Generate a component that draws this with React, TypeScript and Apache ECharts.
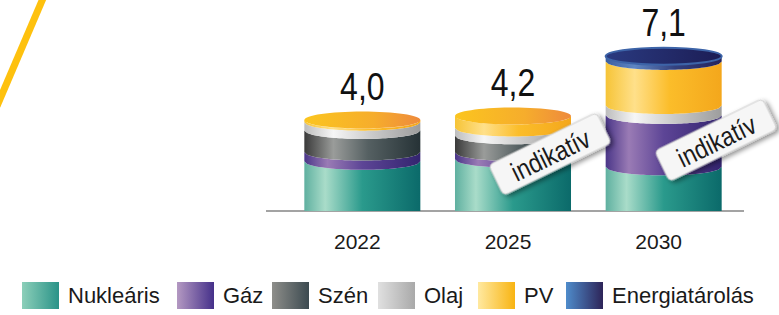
import React, { useEffect, useRef } from "react";
import * as echarts from "echarts";

const categories = ["2022", "2025", "2030"];
const seriesNames = ["Nukleáris", "Gáz", "Szén", "Olaj", "PV", "Energiatárolás"];
const nuklearis = [2.0, 2.1, 1.73];
const gaz = [0.45, 0.33, 2.5];
const szen = [1.05, 0.81, 0];
const olaj = [0.4, 0.38, 0.48];
const pv = [0.1, 0.58, 2.14];
const energiatarolas = [0, 0, 0.25];
const totals = [4.0, 4.2, 7.1];
const tagText = "indikatív";

const SANS = "'Liberation Sans', Arial, sans-serif";
const RY = 8.5;

const bodyStops: [number, string][][] = [
  [[0, "#5fb0a0"], [0.18, "#a9dcc9"], [0.5, "#2a9a8c"], [1, "#0b6a6a"]],
  [[0, "#4a3688"], [0.2, "#9a7bb5"], [0.5, "#5d4596"], [1, "#33246f"]],
  [[0, "#3a3a3a"], [0.25, "#9a9c9a"], [0.55, "#556062"], [1, "#263236"]],
  [[0, "#bdbdbd"], [0.25, "#f6f6f6"], [0.6, "#c8c8c8"], [1, "#9d9d9d"]],
  [[0, "#f6c437"], [0.25, "#ffe08a"], [0.55, "#fbbd2a"], [1, "#f4a71c"]],
  [[0, "#3b5ea0"], [0.25, "#5f86c3"], [0.6, "#33407e"], [1, "#25245c"]],
];
const capStops: [number, string][][] = [
  [[0, "#8fd0bd"], [1, "#2a9a8c"]],
  [[0, "#8a6bb0"], [1, "#3d2a85"]],
  [[0, "#7a7c7a"], [1, "#333c40"]],
  [[0, "#eeeeee"], [1, "#bdbdbd"]],
  [[0, "#fbc51f"], [0.6, "#f6ad2c"], [1, "#ee8a3c"]],
  [[0, "#2a3a80"], [1, "#1c1d55"]],
];
const legendStops: [string, string][] = [
  ["#8ccfb9", "#2a9388"],
  ["#b499c2", "#45308a"],
  ["#8e8e8a", "#3c4a50"],
  ["#e0e0e0", "#a9a9a9"],
  ["#ffe9a0", "#f8b412"],
  ["#4f8ccb", "#2d2458"],
];
const legendLefts = [22, 177, 272, 378, 478, 566];

const seriesValues = [nuklearis, gaz, szen, olaj, pv, energiatarolas];

function grad(stops: [number, string][]) {
  return new echarts.graphic.LinearGradient(0, 0, 1, 0, stops.map(([o, c]) => ({ offset: o, color: c })));
}

export default function App() {
  const ref = useRef<HTMLDivElement>(null);
  useEffect(() => {
    document.body.style.margin = "0";
    const chart = echarts.init(ref.current!, null, { renderer: "svg" });

    const sums = categories.map((_, i) => seriesValues.reduce((a, s) => a + s[i], 0));
    const bases = seriesValues.map(() => [0, 0, 0]);
    const running = [0, 0, 0];
    seriesValues.forEach((s, si) => {
      s.forEach((v, i) => {
        bases[si][i] = running[i];
        running[i] += v;
      });
    });

    const makeRender = (si: number) => (params: any, api: any) => {
      const ci = api.value(0);
      const base = api.value(1);
      const top = api.value(2);
      if (!(top - base > 0)) return { type: "group", children: [] };
      const xc = api.coord([ci, 0])[0];
      const y0 = api.coord([ci, 0])[1];
      const yb = api.coord([ci, base])[1];
      const yt = api.coord([ci, top])[1];
      const hw = api.size([1, 0])[0] * 0.385;
      const N = 40;
      const pts: number[][] = [];
      for (let k = 0; k <= N; k++) {
        const t = -1 + (2 * k) / N;
        pts.push([xc + t * hw, yt - RY + RY * Math.sqrt(Math.max(0, 1 - t * t))]);
      }
      if (base <= 0) {
        pts.push([xc + hw, y0]);
        pts.push([xc - hw, y0]);
      } else {
        for (let k = N; k >= 0; k--) {
          const t = -1 + (2 * k) / N;
          pts.push([xc + t * hw, yb - RY + RY * Math.sqrt(Math.max(0, 1 - t * t))]);
        }
      }
      const children: any[] = [
        { type: "polygon", shape: { points: pts }, style: { fill: grad(bodyStops[si]) } },
      ];
      const isTop = Math.abs(top - sums[ci]) < 1e-6;
      if (isTop) {
        children.push({
          type: "ellipse",
          shape: { cx: xc, cy: yt - RY, rx: hw, ry: RY },
          style: {
            fill: grad(capStops[si]),
            stroke: si === 5 ? "#3d64a8" : undefined,
            lineWidth: si === 5 ? 2 : 0,
          },
        });
      }
      return { type: "group", children };
    };

    const series: any[] = seriesNames.map((name, si) => ({
      type: "custom",
      name,
      clip: false,
      renderItem: makeRender(si),
      encode: { x: 0, y: [1, 2] },
      itemStyle: { color: legendStops[si][1] },
      data: categories.map((_, i) => [i, bases[si][i], bases[si][i] + seriesValues[si][i]]),
      z: 2,
    }));

    series.push({
      type: "custom",
      name: "totals",
      clip: false,
      encode: { x: 0, y: 1 },
      renderItem: (params: any, api: any) => {
        const ci = api.value(0);
        const p = api.coord([ci, api.value(1)]);
        return {
          type: "text",
          x: p[0],
          y: p[1] - 2 * RY - 25,
          scaleX: 0.82,
          style: {
            text: totals[ci].toFixed(1).replace(".", ","),
            fill: "#111111",
            fontSize: 39,
            fontFamily: SANS,
            align: "center",
            verticalAlign: "middle",
          },
        };
      },
      data: categories.map((_, i) => [i, sums[i]]),
      z: 3,
    });

    const tagPositions = [
      [550, 154],
      [716, 140],
    ];
    const tags = tagPositions.map(([x, y]) => ({
      type: "group",
      x,
      y,
      rotation: (26 * Math.PI) / 180,
      z: 10,
      zlevel: 1,
      children: [
        {
          type: "rect",
          z: 10,
          zlevel: 1,
          shape: { x: -60, y: -17, width: 120, height: 34, r: 5 },
          style: {
            fill: "#f6f6f6",
            stroke: "#d0d0d0",
            lineWidth: 1,
            shadowBlur: 5,
            shadowOffsetX: 2,
            shadowOffsetY: 3,
            shadowColor: "rgba(0,0,0,0.45)",
          },
        },
        {
          type: "text",
          z: 11,
          zlevel: 1,
          x: 0,
          y: 1,
          scaleX: 0.85,
          style: {
            text: tagText,
            fontSize: 27,
            fontFamily: SANS,
            fill: "#1a1a1a",
            align: "center",
            verticalAlign: "middle",
          },
        },
      ],
    }));

    chart.setOption({
      animation: false,
      grid: { left: 287, right: 40, top: 5, bottom: 104 },
      xAxis: {
        type: "category",
        data: categories,
        axisLine: { show: false },
        axisTick: { show: false },
        axisLabel: {
          fontSize: 21,
          color: "#1a1a1a",
          fontFamily: SANS,
          margin: 20,
          padding: [0, 10, 0, 0],
        },
      },
      yAxis: { type: "value", min: 0, max: 10, show: false, splitLine: { show: false } },
      legend: seriesNames.map((n, i) => ({
        data: [
          {
            name: n,
            itemStyle: {
              color: new echarts.graphic.LinearGradient(0, 0, 1, 0, [
                { offset: 0, color: legendStops[i][0] },
                { offset: 1, color: legendStops[i][1] },
              ]),
            },
          },
        ],
        left: legendLefts[i],
        top: 282,
        padding: 0,
        itemWidth: 37,
        itemHeight: 27,
        icon: "rect",
        selectedMode: false,
        textStyle: { fontSize: 22, fontFamily: SANS, color: "#1a1a1a", padding: [0, 0, 0, 4] },
      })),
      graphic: [
        {
          type: "line",
          shape: { x1: -3, y1: 106, x2: 44, y2: -4 },
          style: { stroke: "#fec10e", lineWidth: 7 },
          z: 1,
        },
        {
          type: "line",
          shape: { x1: 266, y1: 211, x2: 744, y2: 211 },
          style: { stroke: "#a3a3a3", lineWidth: 2 },
          z: 1,
        },
        ...tags,
      ],
      series,
    });
    return () => chart.dispose();
  }, []);
  return <div ref={ref} style={{ width: 779, height: 315 }} />;
}
